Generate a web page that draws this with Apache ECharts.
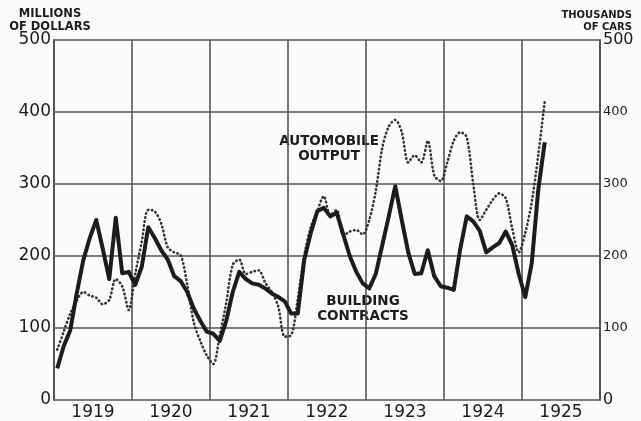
<!DOCTYPE html>
<html>
<head>
<meta charset="utf-8">
<script src="https://cdn.jsdelivr.net/npm/echarts@6/dist/echarts.min.js"></script>
<style>
  html, body { margin: 0; padding: 0; background: #fbfbf9; }
  #chart { width: 641px; height: 421px; }
</style>
</head>
<body>
<div id="chart"></div>
<script>
/* Building contracts vs automobile output, 1919-1925
   - monthly values, plotted at mid-month
   - left axis millions of dollars, right axis thousands of cars */

const years = ["1919", "1920", "1921", "1922", "1923", "1924", "1925"];
const yTicks = [0, 100, 200, 300, 400, 500];

// Building contracts, millions of dollars (Jan 1919 .. Apr 1925)
const building = [
  44, 75, 97, 148, 194, 225, 250, 210, 168, 253, 176, 178,
  160, 185, 240, 225, 208, 195, 172, 165, 150, 127, 110, 95,
  92, 82, 110, 150, 178, 168, 162, 160, 155, 148, 143, 137,
  120, 120, 195, 232, 262, 267, 255, 260, 230, 200, 178, 162,
  155, 175, 215, 255, 297, 250, 205, 175, 176, 208, 172, 158,
  156, 153, 210, 255, 248, 235, 205, 212, 218, 234, 215, 175,
  143, 190, 292, 358
];

// Automobile output, thousands of cars (Jan 1919 .. Apr 1925)
const autos = [
  70, 95, 120, 138, 150, 145, 142, 133, 139, 168, 158, 125,
  175, 220, 264, 262, 245, 212, 205, 201, 160, 108, 82, 62,
  50, 90, 135, 188, 195, 175, 178, 180, 163, 150, 130, 88,
  90, 140, 200, 240, 262, 283, 257, 264, 228, 234, 236, 230,
  250, 290, 350, 380, 389, 372, 330, 340, 330, 360, 312, 304,
  330, 360, 372, 365, 300, 250, 264, 278, 287, 280, 238, 205,
  232, 275, 340, 415
];

(function () {
  const el = document.getElementById("chart");
  const chart = echarts.init(el, null, { renderer: "canvas" });

  const ink = "#1c1c1c";
  const gridInk = "#555";
  const font = "DejaVu Sans";

  // month index -> mid-month position on the month axis
  const toPts = arr => arr.map((v, i) => [i + 0.5, v]);

  const option = {
    animation: false,
    backgroundColor: "#fbfbf9",
    grid: { left: 54, right: 41, top: 40, bottom: 21, containLabel: false },

    xAxis: [
      {
        type: "value",
        min: 0,
        max: 84,
        interval: 12,
        axisLine: { show: false },
        axisTick: { show: false },
        axisLabel: { show: false },
        splitLine: { show: true, lineStyle: { color: gridInk, width: 1.6 } }
      },
      {
        type: "category",
        position: "bottom",
        data: years,
        boundaryGap: true,
        axisLine: { show: false },
        axisTick: { show: false },
        splitLine: { show: false },
        axisLabel: {
          color: ink, fontFamily: font, fontSize: 17, margin: 4
        }
      }
    ],

    yAxis: [
      {
        type: "value",
        min: 0,
        max: 500,
        interval: 100,
        axisLine: { show: true, lineStyle: { color: gridInk, width: 2 } },
        axisTick: { show: false },
        splitLine: { show: true, lineStyle: { color: gridInk, width: 1.6 } },
        axisLabel: {
          color: ink, fontFamily: font, fontSize: 17, margin: 3,
          formatter: v => yTicks.includes(v) ? String(v) : ""
        }
      },
      {
        type: "value",
        min: 0,
        max: 500,
        interval: 100,
        position: "right",
        axisLine: { show: true, lineStyle: { color: gridInk, width: 2 } },
        axisTick: { show: false },
        splitLine: { show: false },
        axisLabel: {
          color: ink, fontFamily: font, fontSize: 13, margin: 3,
          // end labels are lettered larger on the original
          formatter: v => {
            if (!yTicks.includes(v)) return "";
            return (v === 0 || v === 500) ? "{big|" + v + "}" : String(v);
          },
          rich: { big: { fontFamily: font, fontSize: 16, color: ink } }
        }
      }
    ],

    series: [
      {
        name: "Automobile output",
        type: "line",
        xAxisIndex: 0,
        yAxisIndex: 1,
        data: toPts(autos),
        showSymbol: false,
        smooth: 0.3,
        lineStyle: { color: "#333", width: 2.6, type: [0.5, 3.6], cap: "round" },
        z: 3
      },
      {
        name: "Building contracts",
        type: "line",
        xAxisIndex: 0,
        yAxisIndex: 0,
        data: toPts(building),
        showSymbol: false,
        lineStyle: { color: ink, width: 4, join: "round" },
        z: 4
      }
    ],

    // axis captions and series labels, drawn as text
    graphic: [
      {
        type: "text", x: 50, y: 8,
        style: {
          text: "MILLIONS\nOF DOLLARS", fill: ink, align: "center",
          font: "bold 11.5px " + font, lineHeight: 13
        }
      },
      {
        type: "text", x: 632, y: 9,
        style: {
          text: "THOUSANDS\nOF CARS", fill: ink, align: "right",
          font: "bold 10px " + font, lineHeight: 12
        }
      },
      {
        type: "text", x: 329, y: 134,
        style: {
          text: "AUTOMOBILE\nOUTPUT", fill: ink, align: "center",
          font: "bold 13.5px " + font, lineHeight: 15
        }
      },
      {
        type: "text", x: 363, y: 294,
        style: {
          text: "BUILDING\nCONTRACTS", fill: ink, align: "center",
          font: "bold 13.5px " + font, lineHeight: 15
        }
      }
    ]
  };

  chart.setOption(option);
})();
</script>
</body>
</html>
